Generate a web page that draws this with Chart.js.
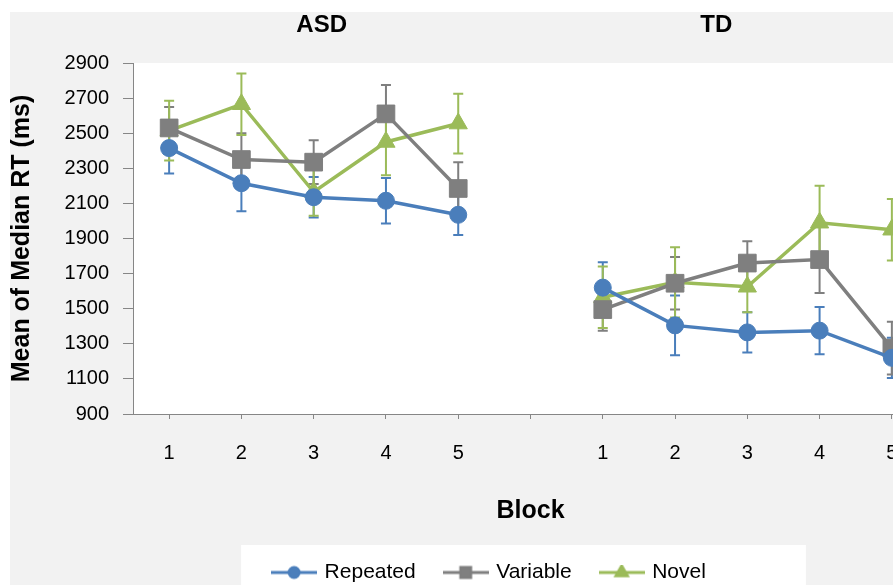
<!DOCTYPE html>
<html>
<head>
<meta charset="utf-8">
<title>Mean of Median RT by Block</title>
<script src="https://cdn.jsdelivr.net/npm/chart.js@4.4.1/dist/chart.umd.min.js"></script>
<style>
  html, body { margin: 0; padding: 0; background: #fff; overflow: hidden; }
  #wrap { position: absolute; left: 10px; top: 12px; width: 960px; height: 600px; background: #f2f2f2; }
</style>
</head>
<body>
<div id="wrap"><canvas id="rtChart" width="960" height="600"></canvas></div>
<script>
// blocks 1-5 for each group, with an empty slot between ASD and TD
const blocks = ["1", "2", "3", "4", "5", "", "1", "2", "3", "4", "5"];
const groups = ["ASD", "TD"];

const repeated = [2415, 2215, 2135, 2115, 2035, null, 1620, 1405, 1365, 1375, 1220];
const repeatedErr = [145, 160, 115, 130, 115, null, 145, 170, 115, 135, 115];

const variable = [2530, 2350, 2335, 2610, 2185, null, 1495, 1645, 1760, 1780, 1275];
const variableErr = [120, 150, 125, 165, 150, null, 120, 150, 125, 190, 150];

const novel = [2515, 2665, 2165, 2450, 2555, null, 1565, 1650, 1625, 1990, 1950];
const novelErr = [170, 175, 135, 190, 170, null, 175, 200, 145, 210, 175];

const BLUE = "#4a7ebb";
const GRAY = "#7f7f7f";
const GREEN = "#9bbb59";
const AXIS = "#868686";
const FONT = "'Liberation Sans', Arial, sans-serif";

Chart.defaults.font.family = FONT;
Chart.defaults.color = "#000";

// little "line + marker" picture for each legend entry
function legendIcon(color, style, radius) {
  const c = document.createElement("canvas");
  c.width = 46;
  c.height = 16;
  const g = c.getContext("2d");
  g.strokeStyle = color;
  g.lineWidth = 3;
  g.beginPath();
  g.moveTo(0, 8);
  g.lineTo(46, 8);
  g.stroke();
  g.fillStyle = color;
  g.strokeStyle = color;
  Chart.helpers.drawPoint(g, { pointStyle: style, radius: radius, borderWidth: 1, rotation: 0 }, 23, 8);
  g.fill();
  return c;
}

const errorSets = [repeatedErr, variableErr, novelErr];

const errorBars = {
  id: "errorBars",
  beforeDatasetsDraw(chart) {
    const { ctx, scales: { x, y } } = chart;
    chart.data.datasets.forEach((ds, i) => {
      const errs = errorSets[i];
      ctx.save();
      ctx.strokeStyle = ds.borderColor;
      ctx.lineWidth = 2;
      ds.data.forEach((v, j) => {
        if (v == null || errs[j] == null) return;
        const px = x.getPixelForValue(j);
        const top = y.getPixelForValue(v + errs[j]);
        const bot = y.getPixelForValue(v - errs[j]);
        ctx.beginPath();
        ctx.moveTo(px, top);
        ctx.lineTo(px, bot);
        ctx.moveTo(px - 5, top);
        ctx.lineTo(px + 5, top);
        ctx.moveTo(px - 5, bot);
        ctx.lineTo(px + 5, bot);
        ctx.stroke();
      });
      ctx.restore();
    });
  },
};

// the legend sits a little right of and above where Chart.js puts it
const legendShift = {
  id: "legendShift",
  afterLayout(chart) {
    const lg = chart.legend;
    const dx = 21, dy = -5;
    lg.left += dx;
    lg.right += dx;
    lg.top += dy;
    lg.bottom += dy;
    (lg.legendHitBoxes || []).forEach((h) => {
      h.left += dx;
      h.top += dy;
    });
  },
};

// white plot area and white legend box on the grey background
const panels = {
  id: "panels",
  beforeDraw(chart) {
    const { ctx, chartArea: a, legend } = chart;
    ctx.save();
    ctx.fillStyle = "#fff";
    ctx.fillRect(a.left, a.top, a.right - a.left, a.bottom - a.top);
    const hits = legend.legendHitBoxes;
    if (hits && hits.length) {
      const first = hits[0];
      const last = hits[hits.length - 1];
      ctx.fillRect(first.left - 33, first.top - 12, last.left + last.width + 100 - (first.left - 33), 80);
    }
    ctx.restore();
  },
};

// group names above each panel
const groupTitles = {
  id: "groupTitles",
  afterDraw(chart) {
    const { ctx, scales: { x } } = chart;
    const centers = [x.getPixelForValue(2) + 8, x.getPixelForValue(8) - 31];
    ctx.save();
    ctx.font = "bold 24px " + FONT;
    ctx.fillStyle = "#000";
    ctx.textAlign = "center";
    ctx.textBaseline = "alphabetic";
    groups.forEach((g, i) => ctx.fillText(g, centers[i], 20));
    ctx.restore();
  },
};

const series = [
  { label: "Repeated", data: repeated, color: BLUE, style: "circle", radius: 8.5, legendRadius: 5 },
  { label: "Variable", data: variable, color: GRAY, style: "rect", radius: 12.5, legendRadius: 7 },
  { label: "Novel", data: novel, color: GREEN, style: "triangle", radius: 10.5, legendRadius: 6.5 },
];

const ctx = document.getElementById("rtChart").getContext("2d");
new Chart(ctx, {
  type: "line",
  data: {
    labels: blocks,
    datasets: series.map((s) => ({
      label: s.label,
      data: s.data,
      borderColor: s.color,
      backgroundColor: s.color,
      borderWidth: 3.5,
      pointStyle: s.style,
      pointRadius: s.radius,
      pointBorderWidth: 1,
      pointBackgroundColor: s.color,
      pointBorderColor: s.color,
      tension: 0,
    })),
  },
  options: {
    responsive: false,
    animation: false,
    layout: { padding: { top: 51, right: 42, left: 0, bottom: 14 } },
    plugins: {
      tooltip: { enabled: false },
      legend: {
        position: "bottom",
        labels: {
          usePointStyle: true,
          pointStyleWidth: 40,
          padding: 30,
          color: "#000",
          font: { size: 21 },
          generateLabels: () =>
            series.map((s, i) => ({
              text: s.label,
              pointStyle: legendIcon(s.color, s.style, s.legendRadius),
              fillStyle: s.color,
              strokeStyle: s.color,
              lineWidth: 0,
              hidden: false,
              datasetIndex: i,
            })),
        },
      },
    },
    scales: {
      x: {
        offset: true,
        grid: { offset: false, drawOnChartArea: false, color: AXIS, tickLength: 5 },
        border: { color: AXIS, width: 1 },
        ticks: { font: { size: 20 }, padding: 22, color: "#000", autoSkip: false, maxRotation: 0 },
        title: {
          display: true,
          text: "Block",
          font: { size: 25, weight: "bold" },
          padding: { top: 9, bottom: 11 },
        },
      },
      y: {
        min: 900,
        max: 2900,
        ticks: {
          stepSize: 200,
          font: { size: 20 },
          padding: 14,
          color: "#000",
          callback: (v) => String(v),
        },
        grid: { drawOnChartArea: false, color: AXIS, tickLength: 10 },
        border: { color: AXIS, width: 1 },
        title: {
          display: true,
          text: "Mean of Median RT (ms)",
          font: { size: 25, weight: "bold", lineHeight: 1 },
          padding: 0,
        },
        afterFit(scale) {
          scale.width = 123;
        },
      },
    },
  },
  plugins: [legendShift, panels, errorBars, groupTitles],
});
</script>
</body>
</html>
